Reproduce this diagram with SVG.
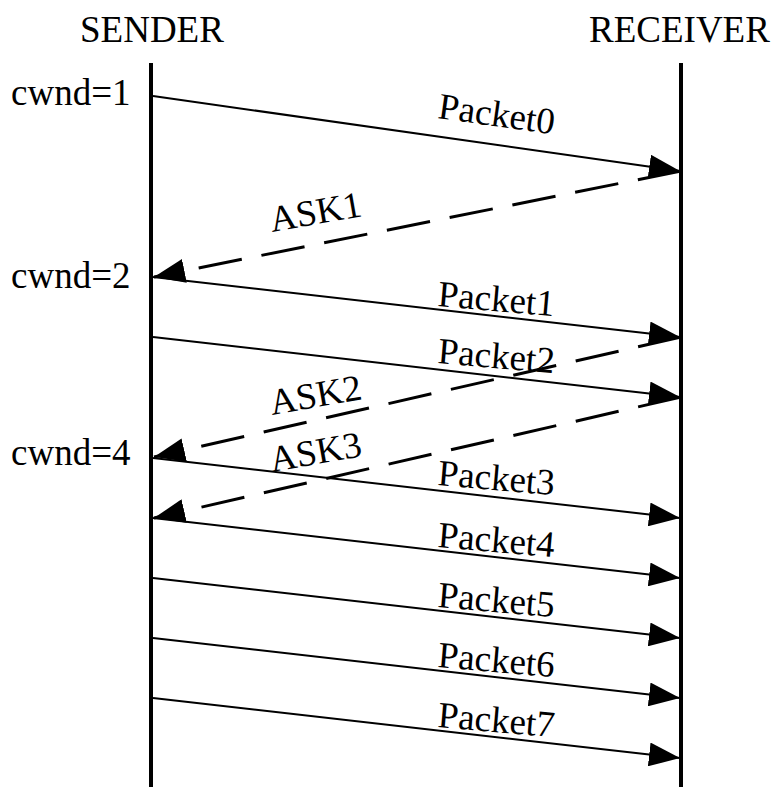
<svg xmlns="http://www.w3.org/2000/svg" width="776" height="787" viewBox="0 0 776 787">
<style>
text{font-family:"Liberation Serif","Times New Roman",serif;font-size:37px;fill:#000}
.life{stroke:#000;stroke-width:4;fill:none}
.pkt{stroke:#000;stroke-width:2;fill:none;marker-end:url(#ah)}
.ack{stroke:#000;stroke-width:3;fill:none;stroke-dasharray:44 20;marker-end:url(#ah)}
</style>
<defs>
<marker id="ah" markerUnits="userSpaceOnUse" markerWidth="31" markerHeight="24" refX="31" refY="12" orient="auto" viewBox="0 0 31 24">
<path d="M0,0 L31,12 L0,24 z" fill="#000"/>
</marker>
</defs>
<rect width="776" height="787" fill="#fff"/>
<g id="sender">
<text x="80" y="42">SENDER</text>
<line class="life" x1="151" y1="63" x2="151" y2="787"/>
</g>
<g id="receiver">
<text x="589" y="42">RECEIVER</text>
<line class="life" x1="681" y1="63" x2="681" y2="787"/>
</g>
<g id="cwnd-labels">
<text x="11" y="105">cwnd=1</text>
<text x="11" y="288">cwnd=2</text>
<text x="11" y="465">cwnd=4</text>
</g>
<g id="connectors">
<line class="pkt" x1="153" y1="96" x2="680" y2="171"/>
<line class="ack" x1="681" y1="171" x2="154" y2="277"/>
<line class="pkt" x1="153" y1="277" x2="680" y2="337"/>
<line class="pkt" x1="153" y1="337" x2="680" y2="397"/>
<line class="ack" x1="681" y1="337" x2="154" y2="457"/>
<line class="pkt" x1="153" y1="458" x2="680" y2="518"/>
<line class="ack" x1="681" y1="397" x2="154" y2="518"/>
<line class="pkt" x1="153" y1="518" x2="680" y2="578"/>
<line class="pkt" x1="153" y1="578" x2="680" y2="638"/>
<line class="pkt" x1="153" y1="638" x2="680" y2="698"/>
<line class="pkt" x1="153" y1="698" x2="680" y2="758"/>
</g>
<g id="connector-labels">
<text transform="translate(437,118) rotate(8)">Packet0</text>
<text transform="translate(272,232) rotate(-10)">ASK1</text>
<text transform="translate(437,306) rotate(5)">Packet1</text>
<text transform="translate(437,363) rotate(5)">Packet2</text>
<text transform="translate(272,415) rotate(-10)">ASK2</text>
<text transform="translate(272,472) rotate(-10)">ASK3</text>
<text transform="translate(437,485) rotate(5)">Packet3</text>
<text transform="translate(437,547) rotate(5)">Packet4</text>
<text transform="translate(437,607) rotate(5)">Packet5</text>
<text transform="translate(437,667) rotate(5)">Packet6</text>
<text transform="translate(437,727) rotate(5)">Packet7</text>
</g>
</svg>
